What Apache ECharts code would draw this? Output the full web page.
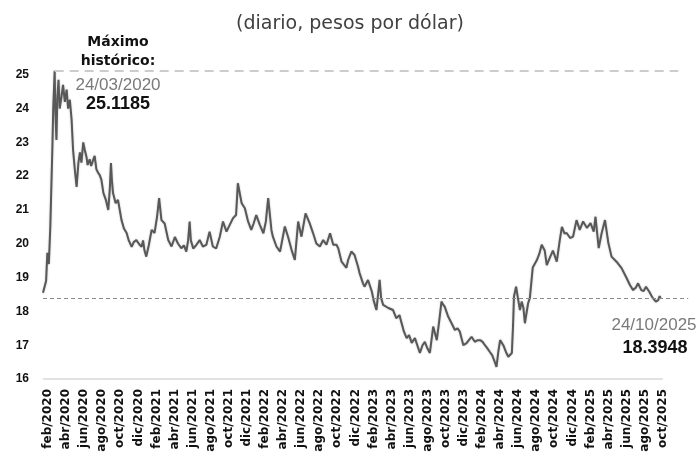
<!DOCTYPE html>
<html>
<head>
<meta charset="utf-8">
<script src="https://cdn.jsdelivr.net/npm/echarts@6/dist/echarts.min.js"></script>
<style>html,body{margin:0;padding:0;background:#fff}#c{width:700px;height:459px}</style>
</head>
<body>
<div id="c"></div>
<script>
const dates = [
'2020-02-14','2020-02-19','2020-02-24','2020-02-28','2020-03-04','2020-03-09','2020-03-12','2020-03-16','2020-03-19','2020-03-23',
'2020-03-24','2020-03-26','2020-03-30','2020-04-02','2020-04-06','2020-04-10','2020-04-16','2020-04-21','2020-04-27','2020-05-03',
'2020-05-08','2020-05-14','2020-05-20','2020-05-25','2020-05-31','2020-06-06','2020-06-12','2020-06-17','2020-06-22','2020-06-28',
'2020-07-03','2020-07-09','2020-07-13','2020-07-20','2020-07-25','2020-08-01','2020-08-06','2020-08-12','2020-08-18','2020-08-23',
'2020-08-29','2020-09-05','2020-09-13','2020-09-21','2020-09-26','2020-09-30','2020-10-03','2020-10-07','2020-10-16','2020-10-24',
'2020-10-30','2020-11-05','2020-11-13','2020-11-22','2020-11-29','2020-12-09','2020-12-16','2020-12-25','2021-01-05','2021-01-12',
'2021-01-17','2021-01-22','2021-01-28','2021-02-05','2021-02-14','2021-02-23','2021-03-03','2021-03-10','2021-03-18','2021-03-29',
'2021-04-10','2021-04-21','2021-05-02','2021-05-13','2021-05-24','2021-06-02','2021-06-10','2021-06-16','2021-06-21','2021-06-25',
'2021-07-03','2021-07-14','2021-07-25','2021-08-05','2021-08-17','2021-08-28','2021-09-08','2021-09-19','2021-10-01','2021-10-12',
'2021-10-24','2021-11-04','2021-11-15','2021-11-25','2021-12-01','2021-12-14','2021-12-25','2022-01-05','2022-01-16','2022-01-24',
'2022-02-02','2022-02-13','2022-02-24','2022-03-04','2022-03-12','2022-03-23','2022-03-28','2022-04-09','2022-04-21','2022-05-07',
'2022-05-18','2022-05-30','2022-06-10','2022-06-21','2022-07-02','2022-07-16','2022-07-30','2022-08-11','2022-08-22','2022-09-03',
'2022-09-14','2022-09-25','2022-10-07','2022-10-18','2022-10-29','2022-11-04','2022-11-15','2022-12-01','2022-12-07','2022-12-18',
'2022-12-29','2023-01-10','2023-01-15','2023-01-27','2023-02-01','2023-02-12','2023-02-24','2023-03-01','2023-03-11','2023-03-22',
'2023-03-27','2023-04-03','2023-04-20','2023-05-06','2023-05-17','2023-05-28','2023-06-04','2023-06-12','2023-06-21','2023-06-29',
'2023-07-08','2023-07-19','2023-08-05','2023-08-14','2023-08-22','2023-08-31','2023-09-08','2023-09-19','2023-10-01','2023-10-09',
'2023-10-17','2023-10-23','2023-10-28','2023-11-09','2023-11-20','2023-12-01','2023-12-10','2023-12-18','2023-12-30','2024-01-10',
'2024-01-18','2024-01-27','2024-02-07','2024-02-16','2024-02-24','2024-03-03','2024-03-11','2024-03-20','2024-03-28','2024-04-05',
'2024-04-13','2024-04-19','2024-04-25','2024-05-01','2024-05-12','2024-05-21','2024-05-29','2024-06-10','2024-06-14','2024-06-17',
'2024-06-24','2024-06-30','2024-07-07','2024-07-13','2024-07-19','2024-07-24','2024-08-04','2024-08-10','2024-08-20','2024-09-03',
'2024-09-11','2024-09-19','2024-09-29','2024-10-06','2024-10-17','2024-10-27','2024-11-09','2024-11-19','2024-11-26','2024-12-05',
'2024-12-12','2024-12-24','2025-01-03','2025-01-15','2025-01-26','2025-02-06','2025-02-18','2025-03-01','2025-03-12','2025-03-18',
'2025-03-29','2025-04-08','2025-04-19','2025-04-30','2025-05-11','2025-05-28','2025-06-14','2025-07-01','2025-07-12','2025-07-23',
'2025-08-01','2025-08-09','2025-08-20','2025-08-28','2025-09-05','2025-09-16','2025-09-27','2025-10-08','2025-10-16','2025-10-21',
'2025-10-24'
];
const values = [
18.55,18.6,18.9,19.73,19.4,20.5,21.5,22.8,24.0,24.9,
25.1185,24.0,23.07,24.3,24.85,24.0,24.36,24.7,24.2,24.56,
24.0,24.26,23.67,22.78,22.2,21.68,22.4,22.7,22.4,23.0,
22.78,22.57,22.33,22.5,22.3,22.48,22.6,22.2,22.1,22.04,
21.9,21.5,21.3,21.0,21.6,22.39,21.9,21.5,21.2,21.3,
21.3,20.7,20.45,20.32,20.1,19.91,20.05,20.11,19.97,19.91,
20.1,19.8,19.62,19.95,20.41,20.32,20.8,21.35,20.7,20.6,
20.11,19.92,20.2,20.0,19.87,19.95,19.77,20.1,20.66,20.1,
19.86,19.97,20.11,19.92,19.97,20.36,19.92,19.86,20.21,20.66,
20.36,20.56,20.76,20.85,21.79,21.2,21.05,20.66,20.41,20.6,
20.85,20.56,20.31,20.66,21.35,20.41,20.21,19.92,19.77,20.51,
20.21,19.82,19.52,20.66,20.21,20.9,20.61,20.31,20.01,19.92,
20.11,19.97,20.31,19.97,19.97,19.87,19.47,19.29,19.52,19.77,
19.67,19.32,19.14,18.83,18.73,18.93,18.58,18.34,18.04,18.93,
18.4,18.19,18.1,18.04,17.8,17.89,17.66,17.4,17.21,17.3,
17.07,17.21,16.77,17.0,17.1,16.9,16.77,17.55,17.15,17.7,
18.29,18.2,18.14,17.84,17.65,17.45,17.5,17.4,17.0,17.06,
17.15,17.25,17.1,17.15,17.15,17.1,17.0,16.9,16.8,16.7,
16.51,16.36,16.8,17.15,17.0,16.8,16.66,16.77,17.6,18.44,
18.73,18.4,18.04,18.29,18.1,17.65,18.24,18.4,19.3,19.52,
19.7,19.97,19.8,19.37,19.6,19.8,19.47,20.11,20.5,20.3,
20.32,20.17,20.21,20.7,20.41,20.66,20.47,20.61,20.36,20.8,
19.87,20.32,20.7,20.03,19.62,19.47,19.28,18.98,18.78,18.63,
18.7,18.83,18.63,18.6,18.73,18.58,18.4,18.29,18.33,18.45,
18.3948
];
const tickLabels = [
'feb/2020','abr/2020','jun/2020','ago/2020','oct/2020','dic/2020',
'feb/2021','abr/2021','jun/2021','ago/2021','oct/2021','dic/2021',
'feb/2022','abr/2022','jun/2022','ago/2022','oct/2022','dic/2022',
'feb/2023','abr/2023','jun/2023','ago/2023','oct/2023','dic/2023',
'feb/2024','abr/2024','jun/2024','ago/2024','oct/2024','dic/2024',
'feb/2025','abr/2025','jun/2025','ago/2025','oct/2025'
];
const yTicks = [16,17,18,19,20,21,22,23,24,25];
const maxDate = '2020-03-24', maxValue = 25.1185;
const lastDate = '2025-10-24', lastValue = 18.3948;

// months elapsed since end of Feb 2020 (label "feb/2020" sits at 0)
function monthOffset(s){
  const p = s.split('-').map(Number);
  const dim = new Date(p[0], p[1], 0).getDate();
  return (p[0]-2020)*12 + (p[1]-3) + (p[2]-1)/dim;
}
const seriesData = dates.map((d,i)=>[monthOffset(d), values[i]]);
const labelPos = tickLabels.map((t,i)=>i*2);

const XMIN = -0.55, XMAX = 71.0, AXIS_END = 68;

const chart = echarts.init(document.getElementById('c'), null, {renderer:'canvas'});
chart.setOption({
  animation:false,
  backgroundColor:'#ffffff',
  grid:{left:43, right:10, top:68, bottom:80, containLabel:false},
  xAxis:{
    type:'value', min:XMIN, max:XMAX,
    axisLine:{show:false}, axisTick:{show:false}, splitLine:{show:false},
    axisLabel:{
      customValues: labelPos,
      rotate:90, margin:10,
      formatter:(v)=>tickLabels[Math.round(v/2)] || '',
      color:'#111', fontFamily:'DejaVu Sans', fontWeight:'bold', fontSize:12
    }
  },
  yAxis:{
    type:'value', min:16, max:25.2, interval:1,
    axisLine:{show:false}, axisTick:{show:false}, splitLine:{show:false},
    axisLabel:{customValues:yTicks, margin:14, color:'#111', fontFamily:'Liberation Sans', fontWeight:'bold', fontSize:12}
  },
  series:[{
    type:'line', data:seriesData, showSymbol:false, silent:true,
    lineStyle:{color:'#585858', width:2, shadowBlur:2, shadowColor:'rgba(0,0,0,0.25)'},
    markLine:{
      silent:true, symbol:['none','none'], label:{show:false}, animation:false,
      data:[
        [{coord:[monthOffset(maxDate), maxValue], lineStyle:{color:'#cccccc', width:2, type:[9,6]}},
         {coord:[69.7, maxValue]}],
        [{coord:[XMIN, lastValue], lineStyle:{color:'#8a8a8a', width:1, type:[4,3]}},
         {coord:[70.8, lastValue]}],
        [{coord:[XMIN, 16], lineStyle:{color:'#d9d9d9', width:1.5, type:'solid'}},
         {coord:[AXIS_END, 16]}]
      ]
    }
  }],
  graphic:[
    {type:'text', x:350, y:24, style:{text:'(diario, pesos por dólar)', fill:'#404040', font:'19px "DejaVu Sans"', textAlign:'center', textVerticalAlign:'middle'}},
    {type:'text', x:118, y:52, style:{text:'Máximo\nhistórico:', fill:'#111', font:'bold 14px "DejaVu Sans"', lineHeight:19, textAlign:'center', textVerticalAlign:'middle'}},
    {type:'text', x:118, y:85, style:{text:'24/03/2020', fill:'#7a7a7a', font:'17px "Liberation Sans"', textAlign:'center', textVerticalAlign:'middle'}},
    {type:'text', x:118, y:104, style:{text:maxValue.toFixed(4), fill:'#111', font:'bold 18px "Liberation Sans"', textAlign:'center', textVerticalAlign:'middle'}},
    {type:'text', x:654, y:325, style:{text:'24/10/2025', fill:'#7a7a7a', font:'17px "Liberation Sans"', textAlign:'center', textVerticalAlign:'middle'}},
    {type:'text', x:655, y:348, style:{text:lastValue.toFixed(4), fill:'#111', font:'bold 18px "Liberation Sans"', textAlign:'center', textVerticalAlign:'middle'}}
  ]
});
</script>
</body>
</html>
